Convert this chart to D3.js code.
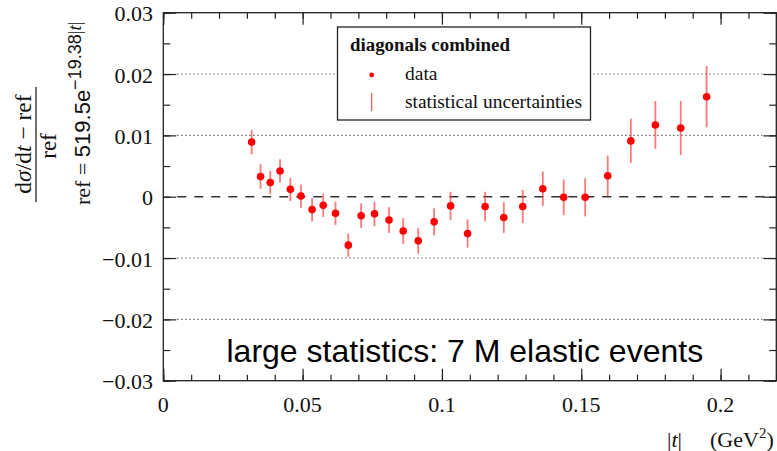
<!DOCTYPE html>
<html>
<head>
<meta charset="utf-8">
<script src="https://cdn.jsdelivr.net/npm/d3@7"></script>
<style>
  html, body { margin: 0; padding: 0; background: #fff; }
  svg { display: block; }
</style>
</head>
<body>
<svg id="chart" width="777" height="451"></svg>
<script>
// ---- data ----
const tValues = [0.0317, 0.0349, 0.0384, 0.0419, 0.0456, 0.0494, 0.0534, 0.0574, 0.0618, 0.0664,
                 0.0710, 0.0758, 0.0810, 0.0861, 0.0915, 0.0972, 0.1031, 0.1092, 0.1155, 0.1222,
                 0.1290, 0.1362, 0.1437, 0.1514, 0.1595, 0.1678, 0.1766, 0.1857, 0.1950];
const relDiff = [0.0089, 0.0033, 0.0023, 0.0042, 0.0012, 0.0001, -0.0021, -0.0014, -0.0027, -0.0079,
                 -0.0031, -0.0028, -0.0038, -0.0056, -0.0072, -0.0041, -0.0015, -0.0060, -0.0016, -0.0034,
                 -0.0016, 0.0013, -0.0001, -0.0001, 0.0034, 0.0091, 0.0117, 0.0112, 0.0163];
const statErr = [0.0020, 0.0020, 0.0019, 0.0019, 0.0019, 0.0019, 0.0019, 0.0019, 0.0019, 0.0019,
                 0.0020, 0.0020, 0.0021, 0.0021, 0.0021, 0.0022, 0.0023, 0.0023, 0.0024, 0.0025,
                 0.0027, 0.0028, 0.0029, 0.0031, 0.0033, 0.0036, 0.0039, 0.0044, 0.0050];
const xTickValues = [0, 0.05, 0.1, 0.15, 0.2];
const xTickLabels = ["0", "0.05", "0.1", "0.15", "0.2"];
const yTickValues = [-0.03, -0.02, -0.01, 0, 0.01, 0.02, 0.03];
const yTickLabels = ["\u22120.03", "\u22120.02", "\u22120.01", "0", "0.01", "0.02", "0.03"];
const gridValues = [-0.02, -0.01, 0.01, 0.02];
const legendTitle = "diagonals combined";
const legendItems = ["data", "statistical uncertainties"];
const annotation = "large statistics: 7 M elastic events";

// ---- layout ----
const L = 163.3, R = 776.3, T = 12.7, B = 380.7;
const serif = "'Liberation Serif', 'Times New Roman', serif";
const sans = "'Liberation Sans', Arial, sans-serif";
const frameColor = "#222";

const svg = d3.select("#chart");
const x = d3.scaleLinear().domain([0, 0.22]).range([L, R]);
const y = d3.scaleLinear().domain([-0.03, 0.03]).range([B, T]);

// grid lines
svg.append("g").selectAll("line").data(gridValues).join("line")
  .attr("x1", L + 14).attr("x2", R - 14)
  .attr("y1", d => y(d)).attr("y2", d => y(d))
  .attr("stroke", "#444").attr("stroke-width", 1.1)
  .attr("stroke-dasharray", "1.2,2.8");

// zero dashed line
svg.append("line")
  .attr("x1", L + 14).attr("x2", R - 4)
  .attr("y1", y(0)).attr("y2", y(0))
  .attr("stroke", "#333").attr("stroke-width", 1.6)
  .attr("stroke-dasharray", "9,8");

// axes with mirrored ticks
const xMinor = d3.range(0, 0.2201, 0.01).map(v => +v.toFixed(3));
const yMinor = d3.range(-0.03, 0.0301, 0.005).map(v => +v.toFixed(4));

function addAxis(axis, transform) {
  const g = svg.append("g").attr("transform", transform).call(axis);
  g.select(".domain").remove();
  g.selectAll("line").attr("stroke", frameColor).attr("stroke-width", 1.2);
  g.selectAll("text").remove();
  return g;
}
// bottom
addAxis(d3.axisTop(x).tickValues(xMinor).tickSize(6), `translate(0,${B})`);
addAxis(d3.axisTop(x).tickValues(xTickValues).tickSize(12), `translate(0,${B})`);
// top
addAxis(d3.axisBottom(x).tickValues(xMinor).tickSize(6), `translate(0,${T})`);
addAxis(d3.axisBottom(x).tickValues(xTickValues).tickSize(12), `translate(0,${T})`);
// left
addAxis(d3.axisRight(y).tickValues(yMinor).tickSize(7), `translate(${L},0)`);
addAxis(d3.axisRight(y).tickValues(yTickValues).tickSize(13), `translate(${L},0)`);
// right
addAxis(d3.axisLeft(y).tickValues(yMinor).tickSize(7), `translate(${R},0)`);
addAxis(d3.axisLeft(y).tickValues(yTickValues).tickSize(13), `translate(${R},0)`);

// frame
svg.append("rect")
  .attr("x", L).attr("y", T).attr("width", R - L).attr("height", B - T)
  .attr("fill", "none").attr("stroke", frameColor).attr("stroke-width", 1.3);

// tick labels
svg.append("g").selectAll("text").data(xTickValues).join("text")
  .attr("x", d => x(d)).attr("y", 412)
  .attr("text-anchor", "middle")
  .attr("font-family", serif).attr("font-size", 22).attr("fill", "#111")
  .text((d, i) => xTickLabels[i]);

svg.append("g").selectAll("text").data(yTickValues).join("text")
  .attr("x", 153).attr("y", d => y(d) + 8.5)
  .attr("text-anchor", "end")
  .attr("font-family", serif).attr("font-size", 22).attr("fill", "#111")
  .text((d, i) => yTickLabels[i]);

// x axis title
const xt = svg.append("text").attr("y", 446.5)
  .attr("font-family", serif).attr("font-size", 22).attr("fill", "#111");
xt.append("tspan").attr("x", 667).text("|");
xt.append("tspan").attr("font-style", "italic").text("t");
xt.append("tspan").text("|");
const xt2 = svg.append("text").attr("x", 710).attr("y", 446.5)
  .attr("font-family", serif).attr("font-size", 22).attr("fill", "#111");
xt2.append("tspan").text("(GeV");
xt2.append("tspan").attr("font-size", 15).attr("dy", -9).text("2");
xt2.append("tspan").attr("dy", 9).text(")");

// y axis title (rotated)
const num = svg.append("text")
  .attr("transform", "translate(31,144) rotate(-90)")
  .attr("text-anchor", "middle")
  .attr("font-family", serif).attr("font-size", 23.5).attr("fill", "#111");
num.append("tspan").text("d");
num.append("tspan").attr("font-style", "italic").text("\u03c3");
num.append("tspan").text("/d");
num.append("tspan").attr("font-style", "italic").text("t");
num.append("tspan").text(" \u2212 ref");

svg.append("line")
  .attr("x1", 36).attr("x2", 36).attr("y1", 87).attr("y2", 202)
  .attr("stroke", "#111").attr("stroke-width", 1.2);

svg.append("text")
  .attr("transform", "translate(56,146) rotate(-90)")
  .attr("text-anchor", "middle")
  .attr("font-family", serif).attr("font-size", 23).attr("fill", "#111")
  .text("ref");

const rt = svg.append("text")
  .attr("transform", "translate(90,205) rotate(-90)")
  .attr("text-anchor", "start")
  .attr("font-family", serif).attr("font-size", 22).attr("fill", "#111");
rt.append("tspan").text("ref = ");
rt.append("tspan").attr("font-family", sans).text("519.5e");
rt.append("tspan").attr("font-family", sans).attr("font-size", 18).attr("dy", -9).text("\u221219.38");
rt.append("tspan").attr("font-size", 19).text("|");
rt.append("tspan").attr("font-size", 19).attr("font-style", "italic").text("t");
rt.append("tspan").attr("font-size", 19).text("|");

// annotation
svg.append("text")
  .attr("x", 226.5).attr("y", 361.5)
  .attr("font-family", sans).attr("font-size", 32).attr("fill", "#000")
  .text(annotation);

// legend
const lg = svg.append("g");
lg.append("rect")
  .attr("x", 337.5).attr("y", 27).attr("width", 253).attr("height", 93)
  .attr("fill", "#fff").attr("stroke", frameColor).attr("stroke-width", 1.3);
lg.append("text")
  .attr("x", 350).attr("y", 50.5)
  .attr("font-family", serif).attr("font-weight", "bold").attr("font-size", 18)
  .attr("textLength", 160).attr("lengthAdjust", "spacingAndGlyphs")
  .attr("fill", "#111").text(legendTitle);
lg.append("circle").attr("cx", 371.7).attr("cy", 75).attr("r", 2.4).attr("fill", "#ff0000");
lg.append("line").attr("x1", 371.7).attr("x2", 371.7).attr("y1", 93).attr("y2", 111)
  .attr("stroke", "#ff5050").attr("stroke-width", 1.2);
lg.append("text").attr("x", 405).attr("y", 80)
  .attr("font-family", serif).attr("font-size", 19.5).attr("fill", "#111")
  .text(legendItems[0]);
lg.append("text").attr("x", 405).attr("y", 107.7)
  .attr("font-family", serif).attr("font-size", 19.5).attr("fill", "#111")
  .attr("textLength", 177).attr("lengthAdjust", "spacingAndGlyphs")
  .text(legendItems[1]);

// data
const pts = tValues.map((t, i) => ({ t, v: relDiff[i], e: statErr[i] }));
svg.append("g").selectAll("line").data(pts).join("line")
  .attr("x1", d => x(d.t)).attr("x2", d => x(d.t))
  .attr("y1", d => y(d.v + d.e)).attr("y2", d => y(d.v - d.e))
  .attr("stroke", "#ff4040").attr("stroke-opacity", 0.7).attr("stroke-width", 1.8);
svg.append("g").selectAll("circle").data(pts).join("circle")
  .attr("cx", d => x(d.t)).attr("cy", d => y(d.v)).attr("r", 3.8)
  .attr("fill", "#ff0000");
</script>
</body>
</html>
